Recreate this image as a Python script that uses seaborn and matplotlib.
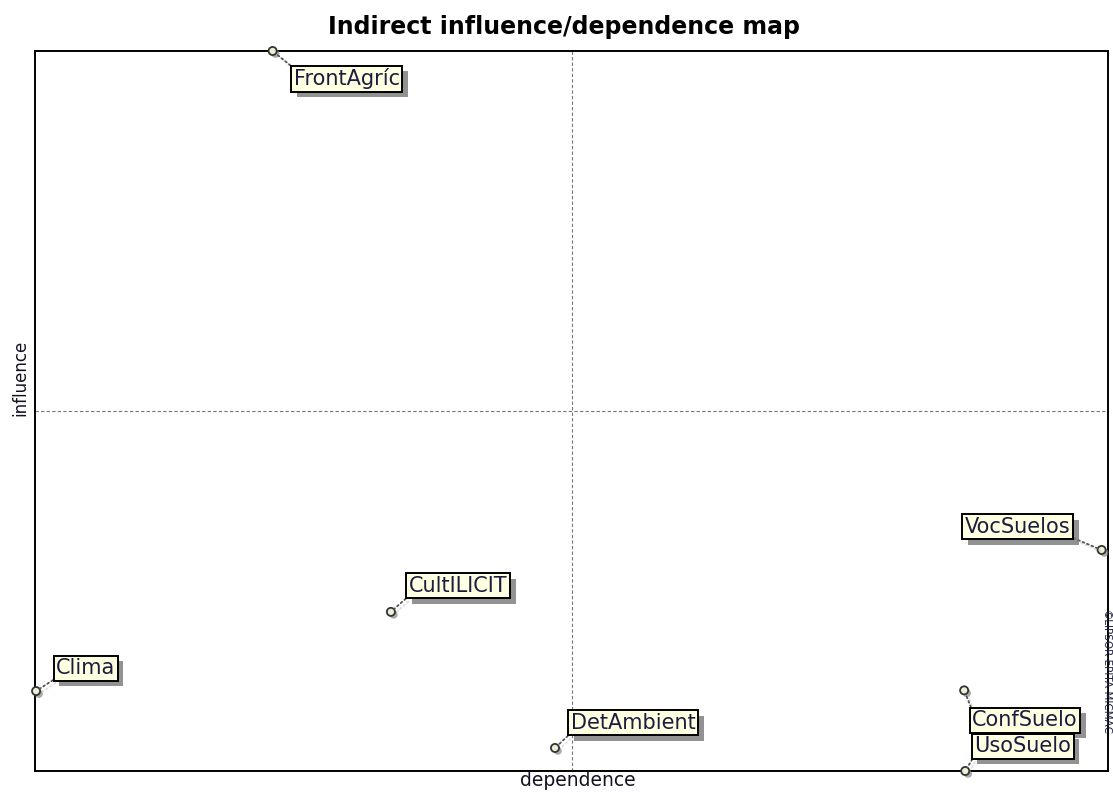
import numpy as np
import pandas as pd
import matplotlib
matplotlib.use("Agg")
import matplotlib.pyplot as plt
import matplotlib.patheffects as pe
import seaborn as sns

names = ['FrontAgríc', 'VocSuelos', 'CultILICIT', 'Clima', 'DetAmbient', 'ConfSuelo', 'UsoSuelo']
dependence = [222, 1000, 333, 0, 487, 871, 872]
influence = [1000, 307, 221, 111, 32, 112, 0]

df = pd.DataFrame({'name': names, 'dependence': dependence, 'influence': influence})

# posicion de las etiquetas (pixeles desde el punto), alineacion y esquina de la linea
label_pos = {
    'FrontAgríc': ((21, -17), 'left', 'top', (0, 1)),
    'VocSuelos': ((-31, 13), 'right', 'bottom', (1, 0)),
    'CultILICIT': ((18, 16), 'left', 'bottom', (0, 0)),
    'Clima': ((20, 13), 'left', 'bottom', (0, 0)),
    'DetAmbient': ((16, 15), 'left', 'bottom', (0, 0)),
    'ConfSuelo': ((8, -20), 'left', 'top', (0, 1)),
    'UsoSuelo': ((9, 15), 'left', 'bottom', (0, 0)),
}

sns.set_style("white")
plt.rcParams['font.family'] = ['DejaVu Sans']

fig = plt.figure(figsize=(11.13, 7.92), dpi=100)
ax = fig.add_axes([35 / 1113, 1 - 771 / 792, (1108 - 35) / 1113, (771 - 51) / 792])

xlim = (-1, 1006)
ylim = (0, 1000)
ax.set_xlim(xlim)
ax.set_ylim(ylim)

ax.axvline(np.mean(xlim), color='#777777', lw=0.8, ls=(0, (3, 2)), zorder=1)
ax.axhline(np.mean(ylim), color='#777777', lw=0.8, ls=(0, (3, 2)), zorder=1)

shadow = [pe.SimplePatchShadow(offset=(2, -2), shadow_rgbFace='#888888', alpha=0.7), pe.Normal()]

sns.scatterplot(data=df, x='dependence', y='influence', ax=ax, marker='o', s=34,
                color='#eeeed8', edgecolor='#333333', linewidth=1.3, zorder=5, clip_on=False)
for c in ax.collections:
    c.set_path_effects(shadow)

for _, row in df.iterrows():
    (dx, dy), ha, va, rel = label_pos[row['name']]
    t = ax.annotate(row['name'], xy=(row['dependence'], row['influence']),
                    xytext=(dx, dy), textcoords='offset pixels', ha=ha, va=va,
                    fontsize=15, color='#1c1c40', zorder=6, annotation_clip=False,
                    bbox=dict(boxstyle='square,pad=0.12', fc='#ffffe1', ec='black', lw=1.4),
                    arrowprops=dict(arrowstyle='-', ls=':', lw=1.3, color='#555555',
                                    shrinkA=0, shrinkB=3, relpos=rel,
                                    path_effects=[pe.SimpleLineShadow(offset=(2, -2), shadow_color='#999999'), pe.Normal()]))
    t.get_bbox_patch().set_path_effects([pe.SimplePatchShadow(offset=(4, -4), shadow_rgbFace='#777777', alpha=0.8), pe.Normal()])

for s in ax.spines.values():
    s.set_color('black')
    s.set_linewidth(1.4)
ax.set_xticks([])
ax.set_yticks([])
ax.set_xlabel('')
ax.set_ylabel('')

fig.text(578 / 1113, 1 - 781 / 792, 'dependence', ha='center', va='center', fontsize=13.5, color='#111122')
fig.text(20 / 1113, 1 - 378 / 792, 'influence', ha='center', va='center', fontsize=12, rotation=90, color='#111122')
fig.text(564 / 1113, 1 - 27 / 792, 'Indirect influence/dependence map', ha='center', va='center',
         fontsize=17, fontweight='bold', color='black')
fig.text(1106 / 1113, 1 - 672 / 792, '©LIPSOR-EPITA-MICMAC', ha='center', va='center',
         fontsize=7.5, rotation=-90, color='#222244')

fig.savefig('out.png', dpi=100)
